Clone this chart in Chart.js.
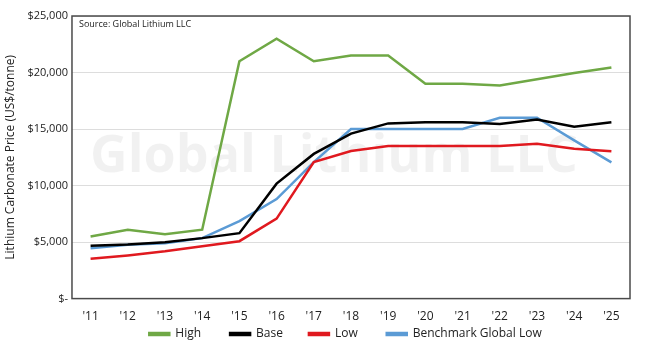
<!DOCTYPE html>
<html>
<head>
<meta charset="utf-8">
<script src="https://cdn.jsdelivr.net/npm/chart.js@4"></script>
<style>
  html, body { margin: 0; padding: 0; background: #fff; }
  #wrap { width: 648px; height: 346px; }
</style>
</head>
<body>
<div id="wrap"><canvas id="priceChart"></canvas></div>
<script>
// Lithium carbonate price forecast
const years = ["'11", "'12", "'13", "'14", "'15", "'16", "'17", "'18", "'19", "'20", "'21", "'22", "'23", "'24", "'25"];
const high = [5500, 6100, 5700, 6100, 21000, 23000, 21000, 21500, 21500, 19000, 19000, 18850, 19400, 19950, 20450];
const base = [4680, 4780, 4990, 5350, 5790, 10170, 12800, 14600, 15500, 15600, 15600, 15450, 15850, 15200, 15600];
const low = [3520, 3820, 4190, 4640, 5080, 7070, 12080, 13060, 13500, 13500, 13500, 13500, 13700, 13250, 13030];
const benchmark = [4460, 4760, 4900, 5350, 6850, 8800, 12080, 15000, 15000, 15000, 15000, 16000, 16000, 14000, 12050];
const yTicks = [0, 5000, 10000, 15000, 20000, 25000];

const fontFamily = '"Open Sans", "Liberation Sans", sans-serif';

// watermark, source note and plot frame
const decorPlugin = {
    id: 'decor',
    afterLayout(chart) {
        // legend sits a bit right of centre in the original
        chart.legend.left += 29;
        chart.legend.right += 29;
    },
    beforeDatasetsDraw(chart) {
        const { ctx, chartArea } = chart;
        ctx.save();
        ctx.font = 'bold 52px ' + fontFamily;
        ctx.fillStyle = 'rgba(0, 0, 0, 0.055)';
        ctx.textAlign = 'center';
        ctx.textBaseline = 'middle';
        ctx.fillText('Global Lithium LLC', (chartArea.left + chartArea.right) / 2 - 17, (chartArea.top + chartArea.bottom) / 2);
        ctx.restore();
    },
    afterDraw(chart) {
        const { ctx, chartArea } = chart;
        ctx.save();
        ctx.strokeStyle = '#4a4a4a';
        ctx.lineWidth = 1.5;
        ctx.strokeRect(chartArea.left, chartArea.top, chartArea.right - chartArea.left, chartArea.bottom - chartArea.top);
        ctx.font = '9px ' + fontFamily;
        ctx.fillStyle = '#222';
        ctx.textBaseline = 'middle';
        ctx.fillText('Source: Global Lithium LLC', chartArea.left + 7, chartArea.top + 8);
        ctx.restore();
    }
};

function lineSet(label, data, color) {
    return {
        label: label,
        data: data,
        borderColor: color,
        backgroundColor: color,
        borderWidth: 2.5,
        pointRadius: 0,
        tension: 0,
        fill: false
    };
}

// extra space after each legend entry (spaces), last one none
const legendGap = [9, 8, 9, 0];

new Chart(document.getElementById('priceChart'), {
    type: 'line',
    data: {
        labels: years,
        datasets: [
            lineSet('High', high, '#6fa845'),
            lineSet('Base', base, '#000000'),
            lineSet('Low', low, '#e0191f'),
            lineSet('Benchmark Global Low', benchmark, '#5b9bd5')
        ]
    },
    options: {
        responsive: true,
        maintainAspectRatio: false,
        animation: false,
        layout: { padding: { left: 3, right: 18, top: 16, bottom: -4 } },
        scales: {
            x: {
                offset: true,
                grid: { display: false },
                border: { display: false },
                ticks: { color: '#222', font: { family: fontFamily, size: 12 }, padding: 3 }
            },
            y: {
                min: 0,
                max: 25000,
                afterBuildTicks(axis) {
                    axis.ticks = yTicks.map(v => ({ value: v }));
                },
                grid: { color: '#dddddd', drawTicks: false, lineWidth: 1 },
                border: { display: false },
                ticks: {
                    color: '#222',
                    font: { family: fontFamily, size: 11 },
                    padding: 4,
                    callback: v => v === 0 ? '$-' : '$' + v.toLocaleString('en-US')
                },
                title: {
                    display: true,
                    text: 'Lithium Carbonate Price (US$/tonne)',
                    color: '#222',
                    font: { family: fontFamily, size: 12 },
                    padding: { top: 0, bottom: 6 }
                }
            }
        },
        plugins: {
            legend: {
                position: 'bottom',
                labels: {
                    boxWidth: 20,
                    boxHeight: 2,
                    padding: 1,
                    color: '#222',
                    font: { family: fontFamily, size: 12 },
                    generateLabels(chart) {
                        const items = Chart.defaults.plugins.legend.labels.generateLabels(chart);
                        items.forEach((item, i) => { item.text += ' '.repeat(legendGap[i] || 0); });
                        return items;
                    }
                }
            },
            tooltip: { enabled: false }
        }
    },
    plugins: [decorPlugin]
});
</script>
</body>
</html>
